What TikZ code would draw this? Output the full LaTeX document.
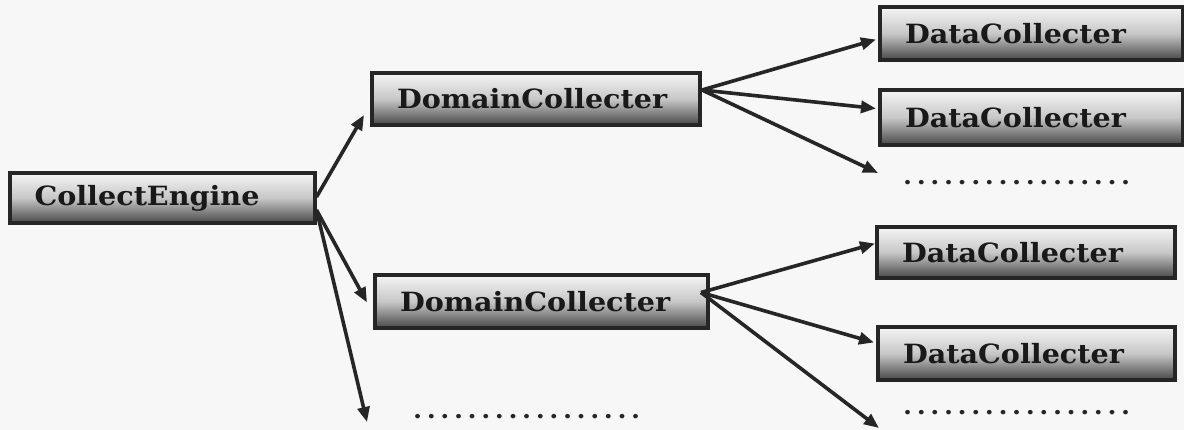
\documentclass[tikz,border=0pt]{standalone}
\usepackage{fontspec}
\newfontfamily\boxfont[FakeStretch=1.08]{DejaVu Serif}
\usetikzlibrary{arrows.meta,calc}
\newcommand{\mydotrow}{\foreach \k in {1,...,17}{.\hspace{4.6pt}}}
\tikzset{
  cbox/.style={draw=black!85, line width=4pt, top color=black!4, bottom color=black!72, middle color=black!22,
    inner xsep=25pt, inner ysep=0pt, align=left, anchor=center,
    font=\boxfont\bfseries\fontsize{26.5}{28}\selectfont, text=black!90},
  conn/.style={draw=black!85, line width=3.6pt, -{Triangle[length=15pt,width=12pt]}},
  dotrow/.style={font=\boxfont\bfseries\fontsize{24}{26}\selectfont, text=black!85, anchor=west, inner sep=0pt}
}
\begin{document}
\begin{tikzpicture}[x=1pt,y=-1pt]
\fill[black!3] (0,0) rectangle (1184,430);
\useasboundingbox (0,0) rectangle (1184,430);

\node[cbox, text width=255pt, minimum height=50pt] (ce) at (162,198) {CollectEngine};
\node[cbox, text width=278pt, minimum height=52pt] (dc1) at (536,99) {DomainCollecter};
\node[cbox, text width=283pt, minimum height=53pt] (dc2) at (541.5,301.5) {DomainCollecter};
\node[cbox, text width=253pt, minimum height=53pt] (dd1) at (1031.5,33.5) {DataCollecter};
\node[cbox, text width=253pt, minimum height=55pt] (dd2) at (1031.5,117.5) {DataCollecter};
\node[cbox, text width=248pt, minimum height=51pt] (dd3) at (1026,252.5) {DataCollecter};
\node[cbox, text width=247pt, minimum height=53pt] (dd4) at (1026.5,353.5) {DataCollecter};

\node[dotrow] (dots1) at (903,183) {\mydotrow};
\node[dotrow] (dots2) at (413,417) {\mydotrow};
\node[dotrow] (dots3) at (903,413) {\mydotrow};

\coordinate (e1) at (878,173);
\coordinate (e2) at (367,422);
\coordinate (e3) at (879,428);

\draw[conn] ([yshift=1pt]ce.east) -- ([xshift=-6pt,yshift=-16pt]dc1.west);
\draw[conn] ([yshift=-12pt]ce.east) -- ([xshift=-6pt,yshift=-1pt]dc2.west);
\draw[conn] ([yshift=-12pt]ce.east) -- (e2);

\draw[conn] ([yshift=9pt]dc1.east) -- ([xshift=-2pt,yshift=-6pt]dd1.west);
\draw[conn] ([yshift=9pt]dc1.east) -- ([xshift=-2pt,yshift=9pt]dd2.west);
\draw[conn] ([yshift=9pt]dc1.east) -- (e1);

\draw[conn] ([xshift=-9pt,yshift=9pt]dc2.east) -- ([yshift=9pt]dd3.west);
\draw[conn] ([xshift=-9pt,yshift=9pt]dc2.east) -- ([xshift=-2pt,yshift=11pt]dd4.west);
\draw[conn] ([xshift=-9pt,yshift=9pt]dc2.east) -- (e3);
\end{tikzpicture}
\end{document}
